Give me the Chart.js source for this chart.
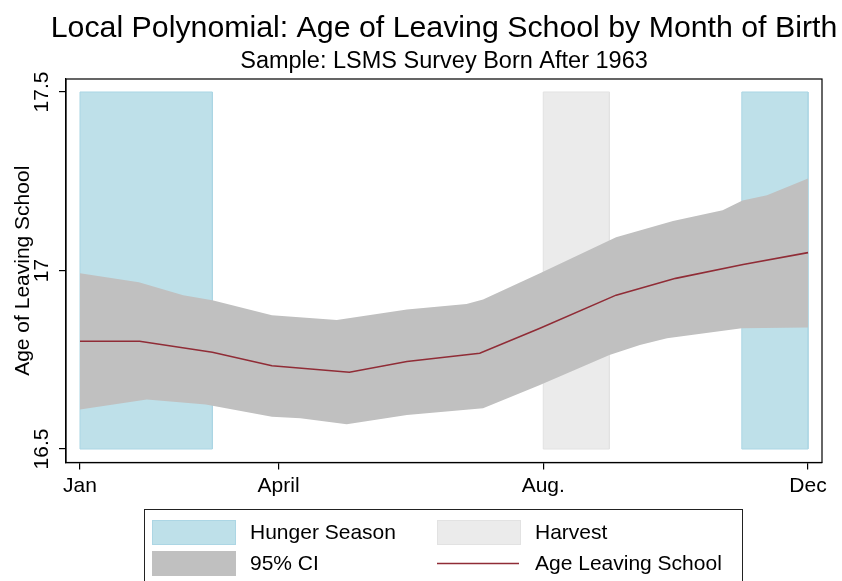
<!DOCTYPE html>
<html>
<head>
<meta charset="utf-8">
<script src="https://cdn.jsdelivr.net/npm/chart.js@4.4.1/dist/chart.umd.min.js"></script>
<style>
  html, body { margin: 0; padding: 0; background: #fff; }
  #wrap { width: 842px; height: 581px; }
</style>
</head>
<body>
<div id="wrap"><canvas id="chart" width="842" height="581"></canvas></div>
<script>
const FONT = '"Liberation Sans", Arial, Helvetica, sans-serif';

const titleText = 'Local Polynomial: Age of Leaving School by Month of Birth';
const subtitleText = 'Sample: LSMS Survey Born After 1963';

// axis ticks
const xTickValues = [1, 4, 8, 12];
const xTickLabels = ['Jan', 'April', 'Aug.', 'Dec'];
const yTickValues = [16.5, 17, 17.5];
const yTickLabels = ['16.5', '17', '17.5'];

// shaded seasons: [from month, to month], drawn over the full tick range
const hungerSeasons = [[1, 3], [11, 12]];
const harvestSeason = [8, 9];
const seasonRange = [16.5, 17.5];

// local polynomial fit
const fitMonths = [1, 1.9, 3, 3.9, 5.07, 5.94, 7.04, 7.95, 9.1, 10.0, 11.02, 12];
const fitValues = [16.802, 16.802, 16.771, 16.733, 16.715, 16.745, 16.768, 16.838, 16.931, 16.978, 17.017, 17.050];

// 95% CI bounds
const upperMonths = [1, 1.89, 2.56, 3, 3.9, 4.88, 5.94, 6.84, 7.09, 7.95, 9.1, 9.96, 10.71, 11.01, 11.38, 12];
const upperValues = [16.992, 16.967, 16.931, 16.917, 16.875, 16.861, 16.891, 16.906, 16.919, 16.992, 17.093, 17.139, 17.169, 17.196, 17.211, 17.258];
const lowerMonths = [1, 2.01, 2.9, 3.9, 4.33, 5.03, 5.94, 7.09, 7.95, 9.0, 9.46, 9.87, 11.0, 12];
const lowerValues = [16.611, 16.639, 16.625, 16.590, 16.586, 16.569, 16.595, 16.614, 16.679, 16.763, 16.791, 16.810, 16.838, 16.840];

const hungerFill = 'rgb(190,224,233)';
const hungerEdge = 'rgb(172,214,228)';
const harvestFill = 'rgb(235,235,235)';
const harvestEdge = 'rgb(226,226,226)';
const ciFill = 'rgb(192,192,192)';
const fitColor = 'rgb(144,44,54)';

const toPoints = (xs, ys) => xs.map((x, i) => ({ x: x, y: ys[i] }));
// closed outline of a season band, so it can be filled as a shape
const band = ([a, b]) => [
    { x: a, y: seasonRange[0] }, { x: a, y: seasonRange[1] },
    { x: b, y: seasonRange[1] }, { x: b, y: seasonRange[0] },
    { x: a, y: seasonRange[0] }
];

// titles, frame, rotated y labels and the boxed legend
const decorations = {
    id: 'decorations',
    afterDraw(chart) {
        const ctx = chart.ctx;
        const area = chart.chartArea;
        const cx = (area.left + area.right) / 2;
        ctx.save();

        ctx.strokeStyle = '#000';
        ctx.lineWidth = 1.2;
        ctx.strokeRect(area.left, area.top, area.right - area.left, area.bottom - area.top);

        ctx.fillStyle = '#000';
        ctx.textAlign = 'center';
        ctx.textBaseline = 'alphabetic';
        ctx.font = '30.3px ' + FONT;
        ctx.fillText(titleText, cx, 37);
        ctx.font = '23.5px ' + FONT;
        ctx.fillText(subtitleText, cx, 68);

        const yScale = chart.scales.y;
        ctx.font = '21px ' + FONT;
        yTickValues.forEach((v, i) => {
            ctx.save();
            ctx.translate(48, yScale.getPixelForValue(v));
            ctx.rotate(-Math.PI / 2);
            ctx.fillText(yTickLabels[i], 0, 0);
            ctx.restore();
        });

        // legend
        ctx.lineWidth = 1;
        ctx.strokeStyle = '#222';
        ctx.strokeRect(144.5, 509.5, 598, 100);
        const items = [
            { label: 'Hunger Season', kind: 'box', fill: hungerFill, edge: hungerEdge, x: 152, y: 520 },
            { label: 'Harvest', kind: 'box', fill: harvestFill, edge: harvestEdge, x: 437, y: 520 },
            { label: '95% CI', kind: 'box', fill: ciFill, edge: ciFill, x: 152, y: 551 },
            { label: 'Age Leaving School', kind: 'line', fill: fitColor, x: 437, y: 551 }
        ];
        ctx.textAlign = 'left';
        ctx.textBaseline = 'middle';
        items.forEach(it => {
            if (it.kind === 'box') {
                ctx.fillStyle = it.fill;
                ctx.fillRect(it.x, it.y, 84, 25);
                ctx.strokeStyle = it.edge;
                ctx.strokeRect(it.x + 0.5, it.y + 0.5, 83, 24);
            } else {
                ctx.strokeStyle = it.fill;
                ctx.lineWidth = 1.6;
                ctx.beginPath();
                ctx.moveTo(it.x, it.y + 12.5);
                ctx.lineTo(it.x + 82, it.y + 12.5);
                ctx.stroke();
            }
            ctx.fillStyle = '#000';
            ctx.fillText(it.label, it.x + 98, it.y + 13);
        });
        ctx.restore();
    }
};

new Chart(document.getElementById('chart'), {
    type: 'line',
    data: {
        datasets: [
            {
                label: 'Hunger Season', data: band(hungerSeasons[0]), fill: 'shape',
                backgroundColor: hungerFill, borderColor: hungerEdge, borderWidth: 1,
                pointRadius: 0, order: 4
            },
            {
                label: 'Hunger Season', data: band(hungerSeasons[1]), fill: 'shape',
                backgroundColor: hungerFill, borderColor: hungerEdge, borderWidth: 1,
                pointRadius: 0, order: 4
            },
            {
                label: 'Harvest', data: band(harvestSeason), fill: 'shape',
                backgroundColor: harvestFill, borderColor: harvestEdge, borderWidth: 1,
                pointRadius: 0, order: 4
            },
            {
                label: '95% CI', data: toPoints(upperMonths, upperValues), fill: '+1',
                backgroundColor: ciFill, borderColor: 'rgba(0,0,0,0)', borderWidth: 1,
                pointRadius: 0, order: 2
            },
            {
                label: '95% CI lower', data: toPoints(lowerMonths, lowerValues), fill: false,
                borderColor: 'rgba(0,0,0,0)', borderWidth: 1, pointRadius: 0, order: 2
            },
            {
                label: 'Age Leaving School', data: toPoints(fitMonths, fitValues), fill: false,
                borderColor: fitColor, borderWidth: 1.6, pointRadius: 0, tension: 0, order: 1
            }
        ]
    },
    options: {
        responsive: false,
        animation: false,
        events: [],
        layout: { padding: { top: 79, right: 20, bottom: 78.5, left: 0 } },
        plugins: {
            legend: { display: false },
            tooltip: { enabled: false },
            title: { display: false }
        },
        scales: {
            x: {
                type: 'linear',
                min: 0.7885,
                max: 12.2115,
                afterBuildTicks: s => { s.ticks = xTickValues.map(v => ({ value: v })); },
                afterFit: s => { s.height = 40; },
                ticks: {
                    callback: (v, i) => xTickLabels[i],
                    color: '#000',
                    font: { family: FONT, size: 21 },
                    padding: 4,
                    maxRotation: 0,
                    autoSkip: false
                },
                grid: { drawOnChartArea: false, drawTicks: true, tickLength: 7, color: '#000', lineWidth: 1.2 },
                border: { color: '#000', width: 1.2 }
            },
            y: {
                type: 'linear',
                min: 16.4622,
                max: 17.5364,
                afterBuildTicks: s => { s.ticks = yTickValues.map(v => ({ value: v })); },
                afterFit: s => { s.width = 66; },
                ticks: { display: false },
                title: {
                    display: true,
                    text: 'Age of Leaving School',
                    color: '#000',
                    font: { family: FONT, size: 21 },
                    padding: { top: 11, bottom: 0 }
                },
                grid: { drawOnChartArea: false, drawTicks: true, tickLength: 7, color: '#000', lineWidth: 1.2 },
                border: { color: '#000', width: 1.2 }
            }
        }
    },
    plugins: [decorations]
});
</script>
</body>
</html>
